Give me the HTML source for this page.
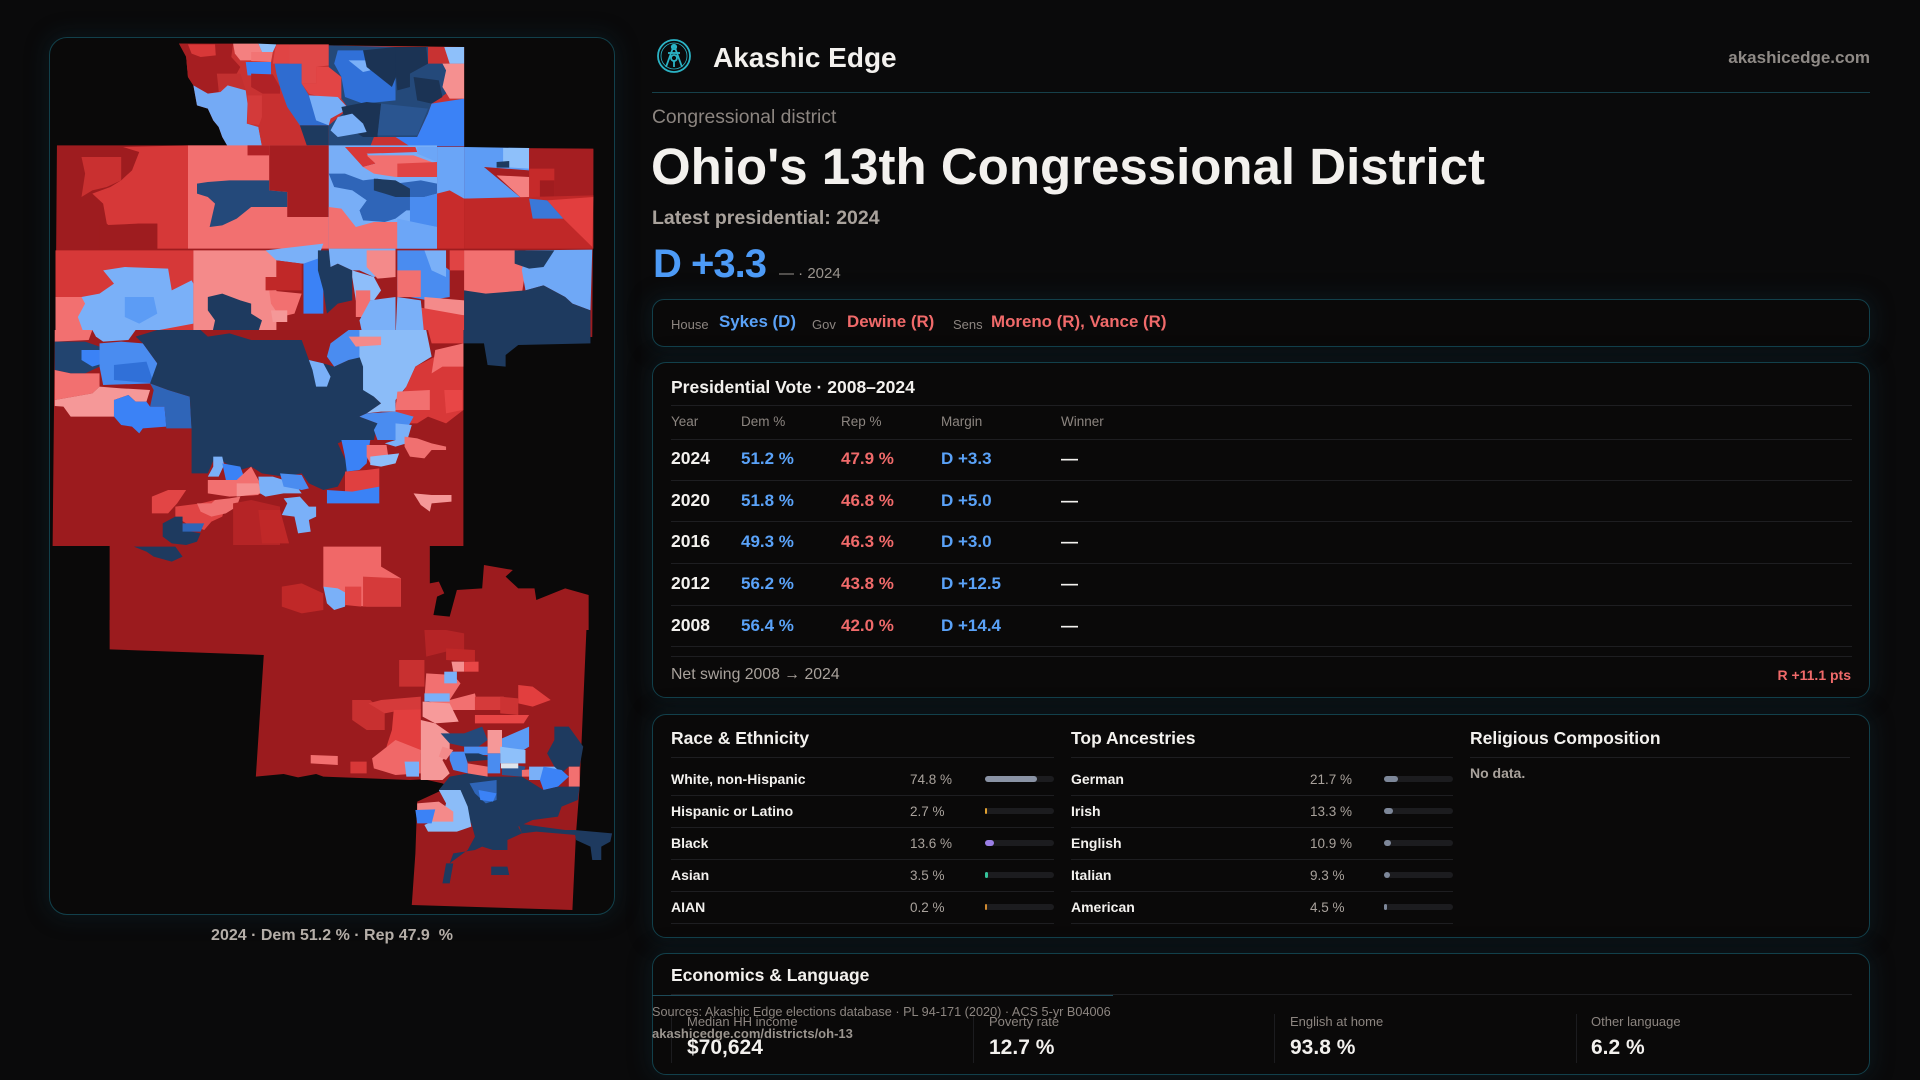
<!DOCTYPE html>
<html><head><meta charset="utf-8">
<style>
*{margin:0;padding:0;box-sizing:border-box}
html,body{width:1920px;height:1080px;overflow:hidden;background:#0a0a0b;font-family:"Liberation Sans",sans-serif}
.a{position:absolute;line-height:1;white-space:nowrap}
.card{position:absolute;border:1px solid #12404b;border-radius:14px;background:#0a0909;box-shadow:0 0 20px 4px rgba(14,44,54,0.35)}
.hl{position:absolute;height:1px;background:#1e1e21}
.b{font-weight:bold}
.w{color:#f3f1ee}.g{color:#8c8580}.lg{color:#a9a29c}.bl{color:#5aa2f8}.rd{color:#f06a6a}
.trk{position:absolute;height:6px;border-radius:3px;background:#1c1c1f}
.fil{position:absolute;height:6px;border-radius:3px;left:0;top:0}
.vl{position:absolute;width:1px;background:#1c1c1f;top:1014px;height:49px}
</style></head><body>

<!-- map card -->
<div class="card" style="left:49px;top:37px;width:566px;height:878px;border-radius:18px"></div>

<svg style="position:absolute;left:0;top:0" width="1920" height="1080" viewBox="0 0 1920 1080">
<!-- ZONE 1 -->
<g transform="translate(49,37) scale(0.36097,0.33333)">
<polygon fill="#c83232" points="360,20 1150,30 1150,330 495,328 480,300 470,270 455,250 440,215 410,205 405,175 400,145 385,120 380,60 375,35"/>
<polygon fill="#9e1c1f" points="22,325 1150,325 1150,332 1508,335 1505,900 18,900"/>
<!-- north lobe -->
<polygon fill="#a51e21" points="360,20 510,20 505,60 530,90 520,110 470,120 470,165 440,170 400,145 385,120 380,60"/>
<polygon fill="#d83838" points="385,22 460,22 462,55 420,60 395,50"/>
<polygon fill="#c23030" points="465,110 530,110 545,160 495,145 470,160"/>
<polygon fill="#74aaf5" points="400,145 440,170 475,165 495,145 545,160 550,200 548,260 580,270 590,328 495,328 480,300 470,270 455,250 440,215 410,205 405,175"/>
<polygon fill="#f48080" points="510,20 580,20 590,45 560,70 530,70 515,50"/>
<polygon fill="#8ec0fa" points="580,20 630,22 620,45 590,45"/>
<polygon fill="#f27474" points="560,45 620,45 615,75 560,72"/>
<polygon fill="#e04444" points="630,22 665,22 665,80 620,80 625,45"/>
<polygon fill="#3b82f6" points="545,75 615,75 615,115 550,115"/>
<polygon fill="#b02226" points="560,110 620,112 640,150 640,175 600,175 560,150"/>
<polygon fill="#d33a3a" points="550,175 590,175 590,265 550,260"/>
<polygon fill="#c83030" points="590,170 640,170 660,210 690,255 715,325 590,328 580,270 590,240"/>
<polygon fill="#2f6cd0" points="625,80 700,80 700,140 720,175 775,185 775,265 695,265 660,210 640,150 630,110"/>
<polygon fill="#e04848" points="665,22 775,22 775,85 740,90 740,140 700,140 700,80 665,80"/>
<polygon fill="#e24545" points="740,90 775,90 810,120 810,185 770,185 720,170 700,140 740,140"/>
<polygon fill="#78aef7" points="720,175 800,180 830,215 780,245 775,265 740,250"/>
<polygon fill="#1e3a5f" points="695,265 775,265 775,328 715,328"/>
<polygon fill="#24497a" points="775,25 960,30 1050,30 1050,80 1100,80 1100,170 1060,200 1050,230 1020,300 900,300 890,328 775,328 775,265 830,215 810,185 810,120 775,90"/>
<polygon fill="#3070d8" points="800,40 870,40 960,100 960,190 870,200 820,180 810,120 790,80"/>
<polygon fill="#7ab0f8" points="830,70 880,70 890,100 870,105"/>
<polygon fill="#1b3354" points="870,40 960,30 965,110 950,150 880,90"/>
<polygon fill="#1b3354" points="960,30 1045,30 1050,80 1000,110 1000,150 965,160 960,100"/>
<polygon fill="#1b3354" points="1010,120 1080,130 1090,180 1060,200 1020,190"/>
<polygon fill="#1b3354" points="810,210 880,195 920,200 910,300 870,300 840,280 820,250"/>
<polygon fill="#2a5590" points="920,200 1050,215 1020,295 910,295"/>
<polygon fill="#3b82f6" points="1060,200 1150,185 1150,328 1000,328 960,300 1020,300 1050,230"/>
<polygon fill="#f59090" points="1090,80 1150,80 1150,185 1110,185 1090,150 1100,100"/>
<polygon fill="#8ec0fa" points="1095,30 1150,30 1150,80 1110,80"/>
<polygon fill="#7ab0f8" points="800,240 840,230 870,260 880,285 800,300 780,280"/>
<!-- row 1 -->
<polygon fill="#d63838" points="205,330 385,325 385,635 300,635 300,560 245,560 245,600 205,605 160,560 150,500 120,470 170,450 200,430 230,400 250,345"/>
<polygon fill="#c93030" points="90,360 200,360 200,430 160,450 120,460 90,480 100,410"/>
<polygon fill="#9e1c1f" points="140,565 245,560 300,560 300,635 140,635"/>
<polygon fill="#f27070" points="385,325 775,325 775,635 385,635"/>
<polygon fill="#a51e21" points="610,325 775,325 775,540 660,540 660,465 610,460"/>
<polygon fill="#b02226" points="550,325 610,325 610,355 550,355"/>
<polygon fill="#24497a" points="410,440 440,435 500,430 555,430 610,430 610,460 660,465 660,510 560,510 520,545 480,565 445,570 460,500 440,480 410,470"/>
<polygon fill="#78aef7" points="775,325 1075,325 1075,635 775,635"/>
<polygon fill="#d83838" points="820,330 1015,330 1020,345 880,350 905,380 870,390"/>
<polygon fill="#f27070" points="870,390 905,380 880,355 1010,355 1060,375 1075,420 960,420 900,410"/>
<polygon fill="#e04444" points="965,380 1075,375 1075,420 965,420"/>
<polygon fill="#6ca6f7" points="1020,330 1075,330 1075,375 1020,350"/>
<polygon fill="#2f65b8" points="775,410 820,410 870,430 910,425 960,440 1030,430 1075,440 1075,470 1040,480 1025,520 990,520 960,545 930,555 870,550 860,520 880,490 840,460 790,450"/>
<polygon fill="#1e3a5f" points="900,425 960,430 1000,455 1000,480 960,480 930,470 900,460"/>
<polygon fill="#78aef7" points="780,460 840,460 880,490 860,520 870,550 850,570 810,545 780,520"/>
<polygon fill="#f27070" points="775,510 810,515 850,570 900,555 965,555 965,635 775,635"/>
<polygon fill="#4a8cf0" points="1000,480 1040,480 1075,470 1075,570 1000,555"/>
<polygon fill="#6ca6f7" points="965,545 1075,570 1075,635 965,635"/>
<polygon fill="#6aa5f7" points="1075,330 1150,330 1150,485 1075,485"/>
<polygon fill="#c82c2c" points="1075,470 1110,460 1150,485 1150,635 1075,635"/>
<polygon fill="#5d9cf5" points="1150,330 1330,333 1330,485 1150,485"/>
<polygon fill="#8ec0fa" points="1258,333 1330,333 1330,395 1258,390 1258,360"/>
<polygon fill="#1e3a5f" points="1240,375 1275,372 1275,392 1240,392"/>
<polygon fill="#a51e21" points="1330,335 1508,337 1508,480 1400,485 1330,485"/>
<polygon fill="#c62a2a" points="1330,395 1400,395 1400,485 1330,485"/>
<polygon fill="#a01c1f" points="1360,430 1400,430 1400,485 1360,485"/>
<polygon fill="#a51e21" points="1205,390 1330,400 1330,485 1310,485"/>
<polygon fill="#f48080" points="1240,415 1330,420 1330,485 1310,485"/>
<polygon fill="#c02828" points="1150,485 1508,475 1508,635 1150,635"/>
<polygon fill="#e23e3e" points="1380,490 1508,480 1505,630 1425,545"/>
<polygon fill="#3a78d8" points="1330,485 1380,490 1425,545 1340,545"/>
<!-- row 2 -->
<polygon fill="#d63838" points="18,640 400,640 400,900 18,900"/>
<polygon fill="#f27070" points="18,780 100,780 110,900 18,900"/>
<polygon fill="#7ab0f8" points="150,700 210,690 330,695 340,760 395,730 400,740 400,860 300,880 240,900 100,900 80,840 100,800 90,780 140,770 180,740"/>
<polygon fill="#5c9cf5" points="210,780 290,780 300,830 250,860 210,840"/>
<polygon fill="#f48a8a" points="400,640 630,640 630,880 400,880"/>
<polygon fill="#1e3a5f" points="440,780 480,770 530,790 560,800 560,830 590,850 575,900 450,900 460,850 440,820"/>
<polygon fill="#7ab0f8" points="600,640 760,620 740,680 700,680 630,670"/>
<polygon fill="#c02828" points="630,670 700,680 700,760 600,760 600,720 630,720"/>
<polygon fill="#f27070" points="610,760 700,770 680,830 640,840 615,800"/>
<polygon fill="#f59898" points="615,820 660,820 660,855 620,855"/>
<polygon fill="#3b82f6" points="705,680 745,665 760,700 760,830 705,830"/>
<polygon fill="#1e3a5f" points="745,640 780,640 780,690 800,680 840,700 840,790 800,800 770,830 760,760 745,700"/>
<polygon fill="#7ab0f8" points="775,635 960,635 960,700 900,720 860,700 840,700 800,680 780,690"/>
<polygon fill="#f48a8a" points="880,640 960,640 960,720 910,725 880,690"/>
<polygon fill="#8ebefa" points="840,700 900,720 920,760 900,790 850,790 840,720"/>
<polygon fill="#f27070" points="850,760 890,760 890,840 850,840"/>
<polygon fill="#7ab0f8" points="890,790 960,780 960,900 870,900 860,850"/>
<polygon fill="#4a8cf0" points="965,640 1040,640 1110,700 1110,780 1050,790 1000,780 965,760"/>
<polygon fill="#7ab0f8" points="1040,640 1100,640 1100,720 1060,700"/>
<polygon fill="#e04444" points="1110,640 1150,640 1150,700 1110,700"/>
<polygon fill="#f27070" points="965,700 1030,700 1030,780 965,780"/>
<polygon fill="#f48a8a" points="1040,780 1150,790 1150,835 1040,830"/>
<polygon fill="#e04040" points="1020,810 1150,835 1150,900 1040,900"/>
<polygon fill="#7ab0f8" points="965,780 1030,790 1040,900 960,900"/>
<polygon fill="#f27070" points="1150,640 1300,640 1320,700 1310,770 1210,775 1150,760"/>
<polygon fill="#6fa8f6" points="1320,640 1505,638 1500,820 1450,800 1430,780 1370,745 1320,760 1310,700"/>
<polygon fill="#1e3a5f" points="1290,640 1400,640 1370,690 1330,695 1290,680"/>
<polygon fill="#1e3a5f" points="1150,760 1210,770 1320,760 1370,745 1430,780 1450,800 1500,820 1500,900 1150,900"/>
</g>

<!-- ZONE 2 -->
<g transform="translate(49,330) scale(0.36097,0.33333)">
<polygon fill="#9c1b1e" points="16,0 1148,0 1148,648 1055,648 1055,760 1080,755 1095,790 1075,800 1065,855 1110,860 1130,780 1200,775 1205,705 1285,720 1265,740 1300,775 1345,775 1350,810 1430,775 1495,795 1495,900 168,900 168,648 10,648"/>
<polygon fill="#1e3a5f" points="1148,0 1500,0 1500,40 1300,45 1265,75 1265,110 1215,105 1205,40 1148,40"/>
<polygon fill="#f27070" points="16,0 120,0 110,30 16,35"/>
<polygon fill="#7ab0f8" points="120,0 240,0 220,30 150,35 130,20"/>
<polygon fill="#22446f" points="16,35 100,35 140,50 140,110 100,130 60,130 16,120"/>
<polygon fill="#3b82f6" points="90,60 140,60 150,100 120,110 90,90"/>
<polygon fill="#4a8cf0" points="140,40 200,35 260,40 300,100 290,160 150,165 140,110"/>
<polygon fill="#3070d8" points="180,105 270,95 290,160 180,150"/>
<polygon fill="#f27070" points="16,120 60,130 140,130 140,170 120,190 16,210"/>
<polygon fill="#f59898" points="16,210 120,190 140,170 200,175 280,180 270,215 240,215 220,195 180,210 180,260 60,260 40,230 16,228"/>
<polygon fill="#3b82f6" points="180,210 220,195 240,215 270,215 280,230 320,230 325,290 260,295 250,310 230,290 200,285 180,260"/>
<polygon fill="#2f65b8" points="280,160 330,180 390,200 395,295 325,295 320,230 280,230 290,180"/>
<polygon fill="#1e3a5f" points="240,20 300,0 420,0 440,20 500,10 560,30 700,30 720,90 760,100 790,110 830,90 860,80 910,110 900,200 920,220 880,250 860,260 910,280 900,330 820,330 800,340 830,410 800,470 760,480 720,460 700,430 650,440 590,430 560,410 530,420 490,400 460,380 440,430 395,430 395,300 390,200 330,180 280,160 300,100 260,40"/>
<polygon fill="#7ab0f8" points="720,90 760,100 780,140 770,170 740,170 730,120"/>
<polygon fill="#4a8cf0" points="780,40 830,0 860,0 870,80 830,90 790,110 770,80"/>
<polygon fill="#8bbcf8" points="860,0 1045,0 1060,80 1015,110 990,170 960,210 960,245 920,245 880,250 920,220 900,200 870,180 870,110 860,80"/>
<polygon fill="#f48a8a" points="830,20 920,20 920,45 850,50"/>
<polygon fill="#e04040" points="1050,0 1148,0 1148,40 1060,40"/>
<polygon fill="#d83838" points="1015,110 1060,85 1148,40 1148,240 1100,280 1050,260 1020,280 960,280 960,220 990,170"/>
<polygon fill="#f27070" points="1070,60 1148,40 1148,110 1090,110 1060,130"/>
<polygon fill="#f27070" points="965,185 1055,180 1055,240 960,240"/>
<polygon fill="#e84646" points="1095,180 1145,180 1145,240 1100,250"/>
<polygon fill="#4a8cf0" points="880,250 960,245 1010,260 990,300 960,330 910,330 900,300 910,280 860,260"/>
<polygon fill="#7ab0f8" points="960,280 1005,285 990,340 960,350 930,340 960,330"/>
<polygon fill="#3b82f6" points="810,330 890,330 880,400 860,420 825,425 820,380"/>
<polygon fill="#f27070" points="880,345 935,345 940,380 890,400 880,380"/>
<polygon fill="#8ebefa" points="890,380 970,370 960,400 920,410 890,405"/>
<polygon fill="#e04040" points="820,425 880,420 915,415 915,470 860,490 820,490"/>
<polygon fill="#3b82f6" points="770,480 840,485 915,470 915,520 770,520"/>
<polygon fill="#f07070" points="985,320 1020,325 1060,340 1100,350 1100,360 1060,360 1040,385 1000,380 985,350"/>
<polygon fill="#7ab0f8" points="455,380 480,380 485,405 470,440 440,440 455,410"/>
<polygon fill="#3b82f6" points="480,400 530,410 540,440 520,450 490,450"/>
<polygon fill="#f27070" points="440,450 520,450 560,410 575,440 590,470 580,495 500,500 440,490"/>
<polygon fill="#f59090" points="520,460 580,460 590,490 520,500"/>
<polygon fill="#7ab0f8" points="580,440 620,440 680,460 700,490 650,490 600,500 585,490"/>
<polygon fill="#4a8cf0" points="640,430 700,435 720,475 700,480 650,470"/>
<polygon fill="#7ab0f8" points="650,505 695,500 720,530 740,530 740,560 720,570 725,605 690,610 680,560 645,555 660,520"/>
<polygon fill="#f59898" points="1010,490 1060,495 1115,495 1115,515 1060,520 1055,545 1030,525"/>
<polygon fill="#e24545" points="285,500 330,480 380,480 355,520 330,550 285,550"/>
<polygon fill="#e04444" points="350,530 420,520 460,510 490,520 480,560 450,575 430,600 380,580 350,560"/>
<polygon fill="#f07070" points="410,520 450,520 460,510 500,505 530,500 520,530 490,550 450,560 420,545"/>
<polygon fill="#1e3a5f" points="315,580 350,560 370,560 370,600 420,610 410,635 380,645 340,640 315,620"/>
<polygon fill="#2f65b8" points="370,580 430,580 420,605 370,605"/>
<polygon fill="#1e3a5f" points="235,650 350,650 370,680 340,695 290,680 270,665"/>
<polygon fill="#b52426" points="510,520 560,510 640,530 640,645 510,645"/>
<polygon fill="#c02828" points="580,540 640,540 665,640 590,640"/>
<polygon fill="#f06868" points="760,650 920,650 920,710 975,745 975,830 880,830 830,825 800,790 760,770"/>
<polygon fill="#d53a3a" points="870,740 975,745 975,830 870,830"/>
<polygon fill="#7ab0f8" points="760,770 800,775 825,790 820,830 790,840 770,820"/>
<polygon fill="#e04444" points="820,770 865,770 865,830 820,825"/>
<polygon fill="#c02828" points="645,770 700,760 760,790 760,840 700,850 645,830"/>
</g>

<!-- ZONE 3 -->
<g transform="translate(49,620) scale(0.36097,0.33333)">
<polygon fill="#9b1b1e" points="168,0 1490,0 1470,500 1460,640 1450,870 1005,855 1015,700 1020,545 1110,500 1090,490 1040,478 1000,480 760,470 740,462 690,472 650,462 573,470 595,105 168,88"/>
<polygon fill="#b52426" points="1040,30 1100,30 1150,40 1150,90 1100,95 1045,110"/>
<polygon fill="#c02828" points="1100,85 1180,90 1180,125 1100,120"/>
<polygon fill="#c83030" points="970,120 1040,120 1040,200 970,200"/>
<polygon fill="#f27070" points="1045,160 1120,165 1140,190 1110,240 1180,220 1190,270 1120,270 1040,240"/>
<polygon fill="#f59090" points="1115,125 1150,125 1150,155 1120,155"/>
<polygon fill="#e84646" points="1150,125 1190,125 1190,155 1150,155"/>
<polygon fill="#7ab0f8" points="1095,155 1130,155 1130,190 1095,190"/>
<polygon fill="#7ab0f8" points="1040,220 1110,220 1110,245 1040,245"/>
<polygon fill="#f79a9a" points="1035,245 1110,250 1135,305 1070,310 1035,290"/>
<polygon fill="#e84646" points="1180,285 1330,285 1315,310 1180,310"/>
<polygon fill="#e23e3e" points="1300,195 1340,200 1390,240 1340,260 1300,250"/>
<polygon fill="#d53a3a" points="1180,230 1260,230 1260,270 1180,270"/>
<polygon fill="#cc3333" points="1250,230 1300,235 1300,285 1250,280"/>
<polygon fill="#c83030" points="840,240 890,240 930,280 930,330 880,330 840,300"/>
<polygon fill="#d53a3a" points="885,250 920,240 1030,230 1030,270 955,275 930,280"/>
<polygon fill="#e23e3e" points="955,270 1030,268 1030,300 1030,400 960,410 935,380 950,330"/>
<polygon fill="#f06868" points="895,415 960,360 1030,390 1030,460 960,465 900,445"/>
<polygon fill="#f59898" points="1030,300 1070,310 1110,340 1110,400 1090,420 1110,460 1090,480 1030,480"/>
<polygon fill="#7ab0f8" points="985,425 1025,425 1025,470 990,470"/>
<polygon fill="#f27070" points="725,405 800,408 800,435 725,430"/>
<polygon fill="#d83838" points="835,425 880,425 880,460 835,460"/>
<polygon fill="#24497a" points="1085,340 1150,340 1200,320 1215,360 1190,380 1150,380 1110,370"/>
<polygon fill="#4a8cf0" points="1150,380 1215,380 1215,405 1150,405"/>
<polygon fill="#1e3a5f" points="1150,400 1190,400 1215,410 1215,420 1160,425"/>
<polygon fill="#4a8cf0" points="1110,395 1150,395 1160,430 1160,460 1120,450 1110,420"/>
<polygon fill="#f48a8a" points="1090,380 1120,390 1100,420 1080,410"/>
<polygon fill="#f59898" points="1215,330 1255,330 1255,400 1215,400"/>
<polygon fill="#5b9bf5" points="1255,355 1330,320 1330,380 1300,400 1255,400"/>
<polygon fill="#8ec0fa" points="1250,380 1320,390 1320,430 1250,430"/>
<polygon fill="#4a8cf0" points="1215,400 1250,400 1250,460 1215,460"/>
<polygon fill="#2a5590" points="1255,430 1320,440 1310,470 1255,465"/>
<polygon fill="#dfe5ec" points="1252,430 1300,430 1300,445 1252,445"/>
<polygon fill="#f27070" points="1160,430 1215,440 1215,470 1160,465"/>
<polygon fill="#f27070" points="1310,450 1370,445 1370,470 1310,470"/>
<polygon fill="#7ab0f8" points="1330,440 1410,440 1410,480 1330,480"/>
<polygon fill="#1e3a5f" points="1400,320 1440,320 1480,380 1470,440 1440,440 1420,460 1400,440 1380,400 1400,360"/>
<polygon fill="#3b82f6" points="1370,440 1420,450 1440,470 1410,500 1370,510 1360,480"/>
<polygon fill="#f27070" points="1440,440 1470,440 1470,500 1440,500"/>
<polygon fill="#1e3a5f" points="1110,470 1160,460 1215,470 1260,470 1310,470 1370,510 1410,500 1470,500 1465,540 1420,560 1410,590 1340,600 1300,620 1310,640 1270,660 1270,690 1230,690 1200,680 1180,690 1120,700 1100,760 1090,790 1110,730 1160,690 1180,650 1170,610 1130,560 1140,530 1100,520 1080,510"/>
<polygon fill="#1e3a5f" points="1300,610 1360,620 1430,630 1460,630 1460,645 1350,635 1310,640"/>
<polygon fill="#1e3a5f" points="1455,630 1560,640 1555,665 1530,680 1530,720 1505,720 1500,680 1460,660"/>
<polygon fill="#1e3a5f" points="1225,740 1270,740 1275,765 1225,765"/>
<polygon fill="#1e3a5f" points="1100,730 1120,730 1110,790 1090,790"/>
<polygon fill="#2f65b8" points="1165,490 1240,480 1240,540 1210,550 1180,520"/>
<polygon fill="#3b82f6" points="1190,510 1240,520 1230,545 1195,540"/>
<polygon fill="#8bbcf8" points="1080,510 1140,510 1160,560 1170,620 1130,635 1050,635 1040,615 1090,590 1100,550"/>
<polygon fill="#f48a8a" points="1020,550 1080,545 1100,560 1120,575 1120,605 1060,605 1020,580"/>
<polygon fill="#3b82f6" points="1015,570 1070,568 1060,610 1020,610"/>
</g>

<!-- logo -->
<g transform="translate(674,56)" fill="none" stroke="#2bb3c5" stroke-width="1.8">
<circle r="16"/><circle r="13" stroke-width="0.8"/>
<line x1="0" y1="-11" x2="-8" y2="11"/><line x1="0" y1="-11" x2="8" y2="11"/>
<circle cx="0" cy="-9" r="2.2"/><circle cx="0" cy="2" r="3"/><line x1="0" y1="5" x2="0" y2="11"/>
<line x1="-6" y1="-3" x2="6" y2="-3"/>
</g>
</svg>

<div class="a b lg" style="left:49px;width:566px;text-align:center;top:928px;font-size:16px;color:#b5aea8">2024 · Dem 51.2 % · Rep 47.9&nbsp; %</div>

<!-- header -->
<div class="a b w" style="left:713px;top:43.8px;font-size:28px">Akashic Edge</div>
<div class="a b" style="right:50px;top:49px;font-size:17px;color:#8f8a86">akashicedge.com</div>
<div class="hl" style="left:652px;top:92px;width:1218px;background:#16404a"></div>

<div class="a g" style="left:652px;top:107.5px;font-size:19.3px">Congressional district</div>
<div class="a b w" style="left:651px;top:141px;font-size:51px">Ohio's 13th Congressional District</div>
<div class="a b lg" style="left:652px;top:209.3px;font-size:19.5px">Latest presidential: 2024</div>
<div class="a b bl" style="left:653px;top:244px;font-size:40px;letter-spacing:-1px;color:#4d9bf7">D +3.3</div>
<div class="a g" style="left:779px;top:266px;font-size:15px;color:#9a948e">— · 2024</div>

<!-- officials -->
<div class="card" style="left:652px;top:299px;width:1218px;height:48px;border-radius:12px"></div>
<div class="a g" style="left:671px;top:317.5px;font-size:13px">House</div>
<div class="a b bl" style="left:719px;top:314px;font-size:16.9px">Sykes (D)</div>
<div class="a g" style="left:812px;top:317.5px;font-size:13px">Gov</div>
<div class="a b rd" style="left:847px;top:314px;font-size:16.9px">Dewine (R)</div>
<div class="a g" style="left:953px;top:317.5px;font-size:13px">Sens</div>
<div class="a b rd" style="left:991px;top:314px;font-size:16.9px">Moreno (R), Vance (R)</div>

<!-- presidential -->
<div class="card" style="left:652px;top:362px;width:1218px;height:336px"></div>
<div class="a b w" style="left:671px;top:378.5px;font-size:17.5px">Presidential Vote · 2008–2024</div>
<div class="hl" style="left:671px;top:405px;width:1181px"></div>
<div class="a g" style="left:671px;top:414.6px;font-size:13.5px">Year</div>
<div class="a g" style="left:741px;top:414.6px;font-size:13.5px">Dem %</div>
<div class="a g" style="left:841px;top:414.6px;font-size:13.5px">Rep %</div>
<div class="a g" style="left:941px;top:414.6px;font-size:13.5px">Margin</div>
<div class="a g" style="left:1061px;top:414.6px;font-size:13.5px">Winner</div>
<div class="hl" style="left:671px;top:439px;width:1181px"></div>

<div class="a b w" style="left:671px;top:449.5px;font-size:17.5px">2024</div>
<div class="a b bl" style="left:741px;top:449.5px;font-size:17px">51.2 %</div>
<div class="a b rd" style="left:841px;top:449.5px;font-size:17px">47.9 %</div>
<div class="a b bl" style="left:941px;top:449.5px;font-size:17px">D +3.3</div>
<div class="a b w" style="left:1061px;top:449.5px;font-size:17px">—</div>
<div class="hl" style="left:671px;top:480px;width:1181px"></div>

<div class="a b w" style="left:671px;top:491.9px;font-size:17.5px">2020</div>
<div class="a b bl" style="left:741px;top:491.9px;font-size:17px">51.8 %</div>
<div class="a b rd" style="left:841px;top:491.9px;font-size:17px">46.8 %</div>
<div class="a b bl" style="left:941px;top:491.9px;font-size:17px">D +5.0</div>
<div class="a b w" style="left:1061px;top:491.9px;font-size:17px">—</div>
<div class="hl" style="left:671px;top:521px;width:1181px"></div>

<div class="a b w" style="left:671px;top:532.5px;font-size:17.5px">2016</div>
<div class="a b bl" style="left:741px;top:532.5px;font-size:17px">49.3 %</div>
<div class="a b rd" style="left:841px;top:532.5px;font-size:17px">46.3 %</div>
<div class="a b bl" style="left:941px;top:532.5px;font-size:17px">D +3.0</div>
<div class="a b w" style="left:1061px;top:532.5px;font-size:17px">—</div>
<div class="hl" style="left:671px;top:563px;width:1181px"></div>

<div class="a b w" style="left:671px;top:574.5px;font-size:17.5px">2012</div>
<div class="a b bl" style="left:741px;top:574.5px;font-size:17px">56.2 %</div>
<div class="a b rd" style="left:841px;top:574.5px;font-size:17px">43.8 %</div>
<div class="a b bl" style="left:941px;top:574.5px;font-size:17px">D +12.5</div>
<div class="a b w" style="left:1061px;top:574.5px;font-size:17px">—</div>
<div class="hl" style="left:671px;top:605px;width:1181px"></div>

<div class="a b w" style="left:671px;top:616.9px;font-size:17.5px">2008</div>
<div class="a b bl" style="left:741px;top:616.9px;font-size:17px">56.4 %</div>
<div class="a b rd" style="left:841px;top:616.9px;font-size:17px">42.0 %</div>
<div class="a b bl" style="left:941px;top:616.9px;font-size:17px">D +14.4</div>
<div class="a b w" style="left:1061px;top:616.9px;font-size:17px">—</div>
<div class="hl" style="left:671px;top:646px;width:1181px"></div>
<div class="hl" style="left:671px;top:656px;width:1181px"></div>
<div class="a lg" style="left:671px;top:666.6px;font-size:15.8px">Net swing 2008 → 2024</div>
<div class="a b rd" style="right:69px;top:668px;font-size:14px">R +11.1 pts</div>

<!-- demographics -->
<div class="card" style="left:652px;top:714px;width:1218px;height:224px"></div>
<div class="a b w" style="left:671px;top:729.5px;font-size:17.5px">Race &amp; Ethnicity</div>
<div class="a b w" style="left:1071px;top:729.5px;font-size:17.5px">Top Ancestries</div>
<div class="a b w" style="left:1470px;top:729.5px;font-size:17.5px">Religious Composition</div>
<div class="hl" style="left:671px;top:757px;width:383px"></div>
<div class="hl" style="left:1071px;top:757px;width:382px"></div>
<div class="hl" style="left:1470px;top:757px;width:380px"></div>
<div class="a b lg" style="left:1470px;top:765.5px;font-size:14px">No data.</div>

<div class="a b w" style="left:671px;top:772.1px;font-size:14px">White, non-Hispanic</div>
<div class="a lg" style="left:910px;top:772.6px;font-size:13.5px">74.8 %</div>
<div class="trk" style="left:985px;top:776px;width:69px"><div class="fil" style="width:52px;background:#8a93a5"></div></div>
<div class="hl" style="left:671px;top:795px;width:383px"></div>
<div class="a b w" style="left:671px;top:804.1px;font-size:14px">Hispanic or Latino</div>
<div class="a lg" style="left:910px;top:804.6px;font-size:13.5px">2.7 %</div>
<div class="trk" style="left:985px;top:808px;width:69px"><div class="fil" style="width:2px;background:#e0a030"></div></div>
<div class="hl" style="left:671px;top:827px;width:383px"></div>
<div class="a b w" style="left:671px;top:836.1px;font-size:14px">Black</div>
<div class="a lg" style="left:910px;top:836.6px;font-size:13.5px">13.6 %</div>
<div class="trk" style="left:985px;top:840px;width:69px"><div class="fil" style="width:9px;background:#9b7fe6"></div></div>
<div class="hl" style="left:671px;top:859px;width:383px"></div>
<div class="a b w" style="left:671px;top:868.1px;font-size:14px">Asian</div>
<div class="a lg" style="left:910px;top:868.6px;font-size:13.5px">3.5 %</div>
<div class="trk" style="left:985px;top:872px;width:69px"><div class="fil" style="width:2.5px;background:#35c39a"></div></div>
<div class="hl" style="left:671px;top:891px;width:383px"></div>
<div class="a b w" style="left:671px;top:900.1px;font-size:14px">AIAN</div>
<div class="a lg" style="left:910px;top:900.6px;font-size:13.5px">0.2 %</div>
<div class="trk" style="left:985px;top:904px;width:69px"><div class="fil" style="width:1.5px;background:#d08a30"></div></div>
<div class="hl" style="left:671px;top:923px;width:383px"></div>

<div class="a b w" style="left:1071px;top:772.1px;font-size:14px">German</div>
<div class="a lg" style="left:1310px;top:772.6px;font-size:13.5px">21.7 %</div>
<div class="trk" style="left:1384px;top:776px;width:69px"><div class="fil" style="width:14px;background:#7d8799"></div></div>
<div class="hl" style="left:1071px;top:795px;width:382px"></div>
<div class="a b w" style="left:1071px;top:804.1px;font-size:14px">Irish</div>
<div class="a lg" style="left:1310px;top:804.6px;font-size:13.5px">13.3 %</div>
<div class="trk" style="left:1384px;top:808px;width:69px"><div class="fil" style="width:9px;background:#7d8799"></div></div>
<div class="hl" style="left:1071px;top:827px;width:382px"></div>
<div class="a b w" style="left:1071px;top:836.1px;font-size:14px">English</div>
<div class="a lg" style="left:1310px;top:836.6px;font-size:13.5px">10.9 %</div>
<div class="trk" style="left:1384px;top:840px;width:69px"><div class="fil" style="width:7px;background:#7d8799"></div></div>
<div class="hl" style="left:1071px;top:859px;width:382px"></div>
<div class="a b w" style="left:1071px;top:868.1px;font-size:14px">Italian</div>
<div class="a lg" style="left:1310px;top:868.6px;font-size:13.5px">9.3 %</div>
<div class="trk" style="left:1384px;top:872px;width:69px"><div class="fil" style="width:6px;background:#7d8799"></div></div>
<div class="hl" style="left:1071px;top:891px;width:382px"></div>
<div class="a b w" style="left:1071px;top:900.1px;font-size:14px">American</div>
<div class="a lg" style="left:1310px;top:900.6px;font-size:13.5px">4.5 %</div>
<div class="trk" style="left:1384px;top:904px;width:69px"><div class="fil" style="width:3px;background:#7d8799"></div></div>
<div class="hl" style="left:1071px;top:923px;width:382px"></div>

<!-- economics -->
<div class="card" style="left:652px;top:953px;width:1218px;height:122px"></div>
<div class="a b w" style="left:671px;top:966.9px;font-size:17.5px">Economics &amp; Language</div>
<div class="hl" style="left:671px;top:994px;width:1181px"></div>
<div class="hl" style="left:652px;top:995px;width:461px;background:#1d4a58"></div>
<div class="vl" style="left:671px"></div>
<div class="vl" style="left:973px"></div>
<div class="vl" style="left:1274px"></div>
<div class="vl" style="left:1576px"></div>
<div class="a g" style="left:687px;top:1015px;font-size:13px">Median HH income</div>
<div class="a g" style="left:989px;top:1015px;font-size:13px">Poverty rate</div>
<div class="a g" style="left:1290px;top:1015px;font-size:13px">English at home</div>
<div class="a g" style="left:1591px;top:1015px;font-size:13px">Other language</div>
<div class="a b w" style="left:687px;top:1037.2px;font-size:21px">$70,624</div>
<div class="a b w" style="left:989px;top:1037.2px;font-size:21px">12.7 %</div>
<div class="a b w" style="left:1290px;top:1037.2px;font-size:21px">93.8 %</div>
<div class="a b w" style="left:1591px;top:1037.2px;font-size:21px">6.2 %</div>
<div class="a g" style="left:652px;top:1006px;font-size:12.7px">Sources: Akashic Edge elections database · PL 94-171 (2020) · ACS 5-yr B04006</div>
<div class="a b" style="left:652px;top:1027.3px;font-size:13px;color:#9a948e">akashicedge.com/districts/oh-13</div>

</body></html>
